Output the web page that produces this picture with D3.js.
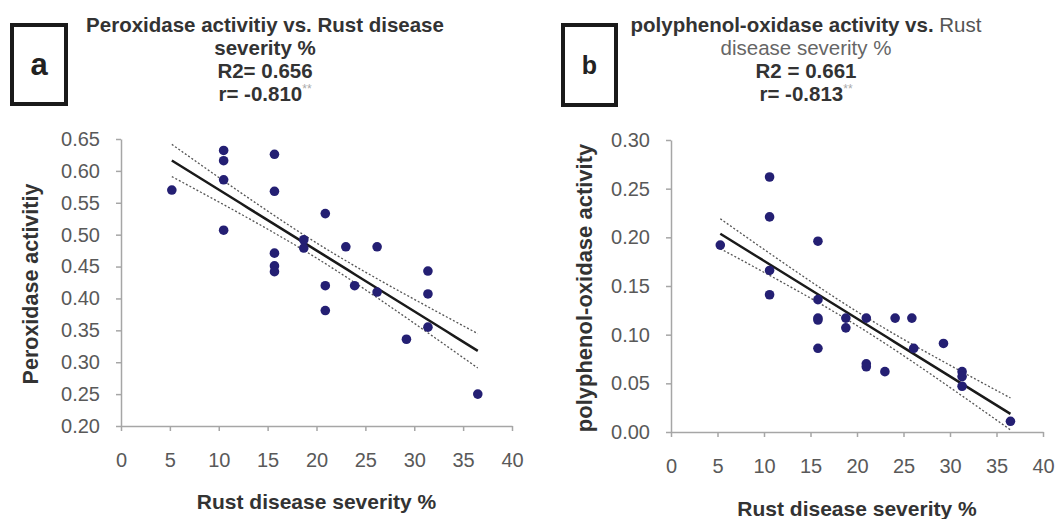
<!DOCTYPE html>
<html>
<head>
<meta charset="utf-8">
<script src="https://cdn.jsdelivr.net/npm/d3@7"></script>
<style>
  body { margin: 0; background: #fff; }
  text { font-family: "Liberation Sans", Arial, sans-serif; }
  .domain, .tick line { stroke: #a6a6a6; stroke-width: 1.5; }
  .tick text { fill: #595959; font-size: 20px; }
</style>
</head>
<body>
<svg id="chart"></svg>
<script>
// rust severity (%) and enzyme activity
const severityA = [5.2, 10.5, 10.5, 10.5, 10.5, 15.7, 15.7, 15.7, 15.7, 15.7, 18.7, 18.7,
  20.9, 20.9, 20.9, 23.0, 23.9, 26.2, 26.2, 29.2, 31.4, 31.4, 31.4, 36.5];
const peroxidase = [0.570, 0.632, 0.616, 0.586, 0.507, 0.626, 0.568, 0.471, 0.451, 0.442, 0.492, 0.479,
  0.533, 0.420, 0.381, 0.481, 0.420, 0.481, 0.410, 0.336, 0.443, 0.407, 0.355, 0.250];

const severityB = [5.3, 10.6, 10.6, 10.6, 10.6, 15.8, 15.8, 15.8, 15.8, 15.8, 18.8, 18.8,
  21.0, 21.0, 21.0, 23.0, 24.1, 25.9, 26.1, 29.3, 31.3, 31.3, 31.3, 36.5];
const polyphenol = [0.192, 0.262, 0.221, 0.166, 0.141, 0.196, 0.136, 0.117, 0.115, 0.086, 0.117, 0.107,
  0.117, 0.070, 0.067, 0.062, 0.117, 0.117, 0.086, 0.091, 0.062, 0.057, 0.047, 0.011];

const xTicks = [0, 5, 10, 15, 20, 25, 30, 35, 40];
const yTicksA = [0.20, 0.25, 0.30, 0.35, 0.40, 0.45, 0.50, 0.55, 0.60, 0.65];
const yTicksB = [0.00, 0.05, 0.10, 0.15, 0.20, 0.25, 0.30];

const svg = d3.select('#chart')
  .attr('width', 1056)
  .attr('height', 519);

// least squares fit plus band of the mean
function fit(xs, ys) {
  const n = xs.length;
  const mx = d3.mean(xs), my = d3.mean(ys);
  let sxx = 0, sxy = 0;
  xs.forEach((x, i) => { sxx += (x - mx) ** 2; sxy += (x - mx) * (ys[i] - my); });
  const b = sxy / sxx, a = my - b * mx;
  let sse = 0;
  xs.forEach((x, i) => { sse += (ys[i] - a - b * x) ** 2; });
  const s = Math.sqrt(sse / (n - 2));
  const pts = d3.range(0, 41).map(i => {
    const x = d3.min(xs) + (d3.max(xs) - d3.min(xs)) * i / 40;
    const yh = a + b * x;
    const h = s * Math.sqrt(1 / n + (x - mx) ** 2 / sxx);
    return { x, y: yh, lo: yh - h, hi: yh + h };
  });
  return pts;
}

function panel(opt) {
  const x = d3.scaleLinear().domain([0, 40]).range([opt.left, opt.right]);
  const y = d3.scaleLinear().domain(opt.yDomain).range([opt.bottom, opt.top]);
  const g = svg.append('g');

  g.append('g')
    .attr('transform', 'translate(0,' + opt.bottom + ')')
    .call(d3.axisBottom(x).tickValues(xTicks).tickSize(5).tickSizeOuter(0).tickPadding(22));

  g.append('g')
    .attr('transform', 'translate(' + opt.left + ',0)')
    .call(d3.axisLeft(y).tickValues(opt.yTicks).tickFormat(d3.format('.2f')).tickSize(5).tickSizeOuter(0).tickPadding(16));

  const pts = fit(opt.xs, opt.ys);
  const line = key => d3.line().x(d => x(d.x)).y(d => y(d[key]));

  ['hi', 'lo'].forEach(k => {
    g.append('path')
      .attr('d', line(k)(pts))
      .attr('fill', 'none')
      .attr('stroke', '#555')
      .attr('stroke-width', 1.3)
      .attr('stroke-dasharray', '2,2');
  });

  g.append('path')
    .attr('d', line('y')(pts))
    .attr('fill', 'none')
    .attr('stroke', '#1a1a1a')
    .attr('stroke-width', 2.5);

  g.selectAll('.dot')
    .data(opt.xs.map((v, i) => [v, opt.ys[i]]))
    .enter().append('circle')
      .attr('cx', d => x(d[0]))
      .attr('cy', d => y(d[1]))
      .attr('r', 4.8)
      .attr('fill', '#241f73');

  g.append('text')
    .attr('x', (opt.left + opt.right) / 2)
    .attr('y', opt.xTitleY)
    .attr('text-anchor', 'middle')
    .style('font-size', '21px')
    .style('font-weight', 'bold')
    .attr('fill', '#333')
    .text('Rust disease severity %');

  g.append('text')
    .attr('transform', 'translate(' + opt.yTitleX + ',' + opt.yTitleY + ') rotate(-90)')
    .attr('text-anchor', 'middle')
    .style('font-size', opt.yTitleSize)
    .style('font-weight', 'bold')
    .attr('fill', '#333')
    .text(opt.yTitle);

  // panel letter box
  g.append('rect')
    .attr('x', opt.box[0]).attr('y', opt.box[1])
    .attr('width', opt.box[2]).attr('height', opt.box[3])
    .attr('fill', 'none')
    .attr('stroke', '#1a1a1a')
    .attr('stroke-width', 4);

  g.append('text')
    .attr('x', opt.box[0] + opt.box[2] / 2)
    .attr('y', opt.box[1] + opt.box[3] / 2)
    .attr('dy', '0.35em')
    .attr('text-anchor', 'middle')
    .style('font-size', opt.letterSize)
    .style('font-weight', 'bold')
    .attr('fill', '#222')
    .text(opt.letter);

  const t = g.append('text')
    .attr('text-anchor', 'middle')
    .style('font-size', '20.5px')
    .attr('fill', '#333');
  opt.titleLines.forEach((parts, i) => {
    const row = t.append('tspan')
      .attr('x', opt.titleX)
      .attr('y', 32 + i * 23);
    parts.forEach(p => {
      row.append('tspan')
        .style('font-weight', p.bold ? 'bold' : 'normal')
        .attr('fill', p.color || '#333')
        .style('font-size', p.sup ? '12px' : null)
        .attr('dy', p.sup ? -8 : null)
        .text(p.text);
    });
  });
}

panel({
  xs: severityA, ys: peroxidase,
  left: 121, right: 512, top: 139, bottom: 426,
  yDomain: [0.20, 0.65], yTicks: yTicksA,
  yTitle: 'Peroxidase activitiy', yTitleX: 38, yTitleY: 284, yTitleSize: '21.5px',
  xTitleY: 509,
  box: [12, 25, 54, 79], letter: 'a', letterSize: '31px',
  titleX: 265,
  titleLines: [
    [{ text: 'Peroxidase activitiy vs. Rust disease', bold: true }],
    [{ text: 'severity %', bold: true }],
    [{ text: 'R2= 0.656', bold: true }],
    [{ text: 'r= -0.810', bold: true }, { text: '**', sup: true, color: '#aaa' }]
  ]
});

panel({
  xs: severityB, ys: polyphenol,
  left: 671, right: 1043, top: 140, bottom: 432,
  yDomain: [0.00, 0.30], yTicks: yTicksB,
  yTitle: 'polyphenol-oxidase activity', yTitleX: 592, yTitleY: 288, yTitleSize: '22px',
  xTitleY: 516,
  box: [563, 25, 53, 80], letter: 'b', letterSize: '25px',
  titleX: 806,
  titleLines: [
    [{ text: 'polyphenol-oxidase activity vs. ', bold: true }, { text: 'Rust', color: '#555' }],
    [{ text: 'disease severity %', color: '#666' }],
    [{ text: 'R2 = 0.661', bold: true }],
    [{ text: 'r= -0.813', bold: true }, { text: '**', sup: true, color: '#aaa' }]
  ]
});
</script>
</body>
</html>
